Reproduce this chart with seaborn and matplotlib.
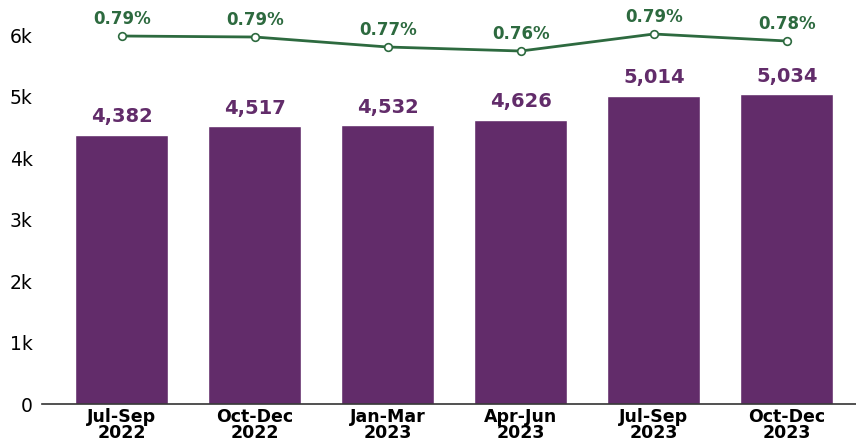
import matplotlib.pyplot as plt
import numpy as np
import pandas as pd
import seaborn as sns

quarters = ["Jul-Sep\n2022", "Oct-Dec\n2022", "Jan-Mar\n2023", "Apr-Jun\n2023", "Jul-Sep\n2023", "Oct-Dec\n2023"]
counts = [4382, 4517, 4532, 4626, 5014, 5034]
rates = [0.79, 0.788, 0.768, 0.76, 0.794, 0.78]

purple = "#622C6A"
green = "#2D6A3F"

sns.set_style("white")
plt.rcParams["font.family"] = ["DejaVu Sans"]

df = pd.DataFrame({"quarter": quarters, "count": counts, "rate": rates})
pos = np.arange(len(quarters))

fig = plt.figure(figsize=(8.56, 4.48), dpi=100)
ax = fig.add_axes([0.049, 0.098, 0.951, 0.902])

sns.barplot(data=df, x="quarter", y="count", color=purple, saturation=1, width=0.7, ax=ax)
ax.set_xlim(-0.6, 5.52)
ax.set_ylim(0, 6570)
ax.set_yticks([0, 1000, 2000, 3000, 4000, 5000, 6000])
ax.set_yticklabels(["0", "1k", "2k", "3k", "4k", "5k", "6k"], fontsize=13.5, color="black")
ax.set_xlabel("")
ax.set_ylabel("")
for lbl in ax.get_xticklabels():
    lbl.set_fontweight("bold")
    lbl.set_fontsize(12.5)
    lbl.set_color("black")
    lbl.set_linespacing(0.85)
ax.tick_params(axis="y", length=0, pad=6.5)
ax.tick_params(axis="x", length=0, pad=3)
for side in ["left", "right", "top"]:
    ax.spines[side].set_visible(False)
ax.spines["bottom"].set_color("#333333")
ax.spines["bottom"].set_linewidth(1.2)

for x, v in zip(pos, counts):
    ax.annotate(f"{v:,}", (x, v), xytext=(0, 6), textcoords="offset points",
                ha="center", va="bottom", fontsize=14, fontweight="bold", color=purple)

ax2 = ax.twinx()
sns.lineplot(x=pos, y=rates, ax=ax2, color=green, linewidth=2, marker="o",
             markersize=5.5, markerfacecolor="white", markeredgecolor=green, markeredgewidth=1.2)
ax2.set_ylim(0.054, 0.862)
ax2.set_xlim(-0.6, 5.52)
ax2.axis("off")
for x, r in zip(pos, rates):
    ax2.annotate(f"{r:.2f}%", (x, r), xytext=(0, 6), textcoords="offset points",
                 ha="center", va="bottom", fontsize=12, fontweight="bold", color=green)

fig.savefig("out.png", dpi=100)
